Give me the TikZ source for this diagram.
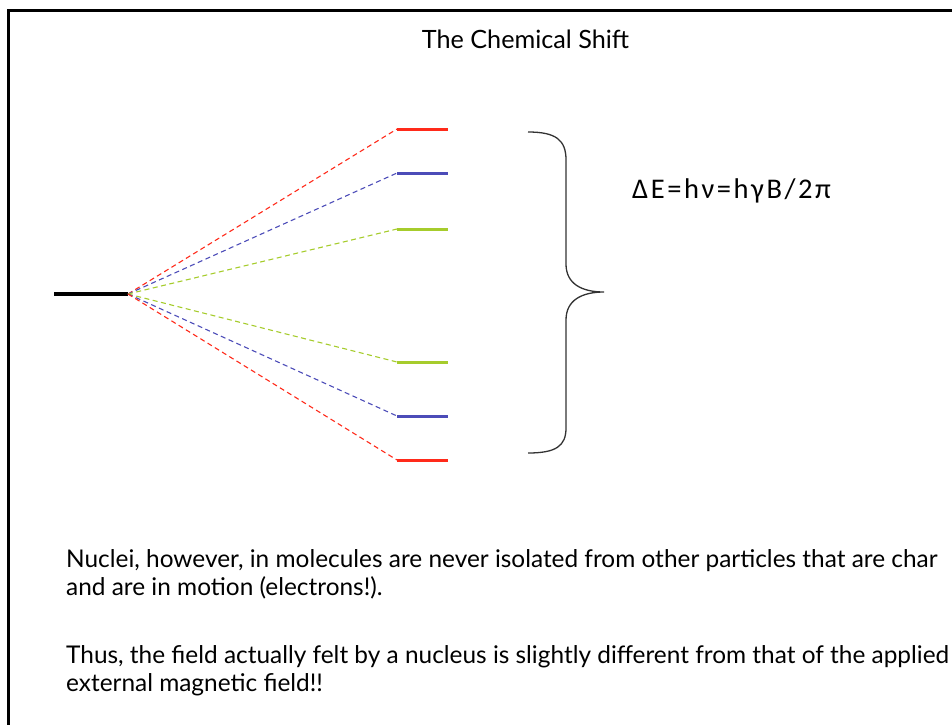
\documentclass[tikz,border=0pt]{standalone}
\usepackage{fontspec}
\setmainfont{Lato}
\newfontfamily\formulafont[LetterSpace=9]{Carlito}
\usepackage{tikz}
\usetikzlibrary{positioning}
\definecolor{lvlred}{HTML}{FF2A1A}
\definecolor{lvlblue}{HTML}{4C4CB8}
\definecolor{lvlgreen}{HTML}{A6CC2C}

\begin{document}
\begin{tikzpicture}[x=1pt,y=-1pt,
  ground/.style={line width=4pt,black},
  level/.style={line width=3pt},
  split/.style={line width=1.1pt,dash pattern=on 5pt off 3.5pt},
  brace/.style={line width=1.3pt,draw=black!80},
  body/.style={anchor=base west,inner sep=0pt,font=\fontsize{24.4}{30}\selectfont}]

  \useasboundingbox (0,0) rectangle (952,724);
  \clip (0,0) rectangle (952,724);

  % frame
  \draw[line width=3pt] (8.5,10.5) rectangle (1000,800);

  % title
  \node[anchor=base,inner sep=0pt,font=\fontsize{25.2}{30}\selectfont] (title) at (525.5,48) {The Chemical Shift};

  % unsplit level
  \coordinate (g0) at (54,294);
  \coordinate (g) at (128,294);
  \draw[ground] (g0) -- (g);

  % split levels
  \foreach \n/\y/\c in {r1/129/lvlred, b1/173/lvlblue, y1/229/lvlgreen,
                        y2/362/lvlgreen, b2/416/lvlblue, r2/460/lvlred} {
    \coordinate (\n) at (397,\y);
    \draw[split,\c] (g) -- (\n);
    \draw[level,\c] (\n) -- ++(51,0);
  }

  % brace
  \coordinate (btop) at (528,132);
  \coordinate (btip) at (604,292);
  \coordinate (bbot) at (528,453);
  \draw[brace] (btop) .. controls (556,132) and (566,140) .. (566,160)
    -- (566,264) .. controls (566,284) and (582,292) .. (btip)
    .. controls (582,292) and (566,300) .. (566,320)
    -- (566,428) .. controls (566,446) and (556,453) .. (bbot);

  % energy
  \node[anchor=base west,inner sep=0pt,font=\formulafont\fontsize{28.5}{30}\selectfont] (dE) at (632,198) {ΔE=hν=hγB/2π};

  % text
  \node[body] (line1) at (66,567) {Nuclei, however, in molecules are never isolated from other particles that are char};
  \node[body] (line2) at (66,595) {and are in motion (electrons!).};
  \node[body] (line3) at (66,663) {Thus, the field actually felt by a nucleus is slightly different from that of the applied};
  \node[body] (line4) at (66,691) {external magnetic field!!};

\end{tikzpicture}
\end{document}
